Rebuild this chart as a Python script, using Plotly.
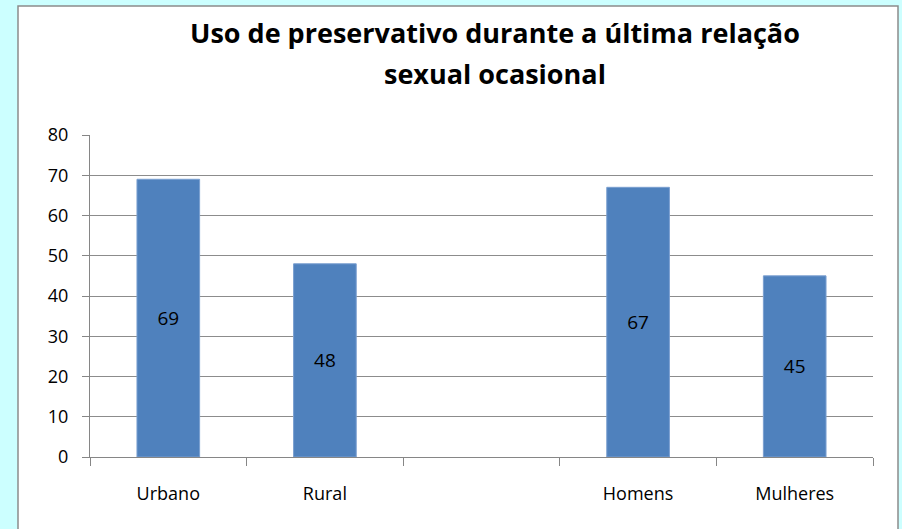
import plotly.graph_objects as go

categories = ["Urbano", "Rural", " ", "Homens", "Mulheres"]
values = [69, 48, None, 67, 45]
labels = ["69", "48", "", "67", "45"]
y_ticks = [0, 10, 20, 30, 40, 50, 60, 70, 80]
title_lines = ["Uso de preservativo durante a última relação", "sexual ocasional"]

W, H = 902, 529
L, R, T, B = 90, 873, 135, 457
pw, ph = R - L, B - T
FONT = "Open Sans, Lato, sans-serif"

def px_x(x):
    return (x - L) / pw

def px_y(y):
    return (B - y) / ph

fig = go.Figure()
fig.add_trace(go.Bar(
    x=categories, y=values, text=labels,
    textposition="inside", insidetextanchor="middle",
    textfont=dict(family=FONT, size=19, color="black"),
    marker=dict(color="#4F81BD", line=dict(color="#7A9FD0", width=1)),
    width=0.4, hoverinfo="x+y",
))

annotations = []
for i, (line, ypx) in enumerate(zip(title_lines, [33, 73])):
    annotations.append(dict(
        text="<b>" + line + "</b>", xref="paper", yref="paper",
        x=px_x(495), y=px_y(ypx), xanchor="center", yanchor="middle",
        showarrow=False, font=dict(family=FONT, size=27, color="black"),
    ))

fig.update_layout(
    width=W, height=H,
    margin=dict(l=L, r=W - R, t=T, b=H - B, autoexpand=False),
    paper_bgcolor="#CCFFFF",
    plot_bgcolor="white",
    showlegend=False,
    font=dict(family=FONT, color="black"),
    annotations=annotations,
    shapes=[dict(
        type="rect", xref="paper", yref="paper", layer="below",
        x0=px_x(18), x1=px_x(898), y0=px_y(540), y1=px_y(6),
        fillcolor="white", line=dict(color="#8C8C8C", width=1.5),
    )],
    xaxis=dict(
        type="category", categoryorder="array", categoryarray=categories,
        showline=True, linecolor="#868686", linewidth=1,
        ticks="outside", tickson="boundaries", ticklen=8, tickcolor="#868686",
        tickfont=dict(size=18, color="black"), ticklabelstandoff=20,
        showgrid=False, fixedrange=True,
    ),
    yaxis=dict(
        range=[0, 80], tickvals=y_ticks,
        showline=True, linecolor="#868686", linewidth=1,
        ticks="outside", ticklen=7, tickcolor="#868686",
        tickfont=dict(size=18, color="black"), ticklabelstandoff=10,
        showgrid=True, gridcolor="#8C8C8C", gridwidth=1,
        zeroline=False, fixedrange=True,
    ),
)

fig.write_html("out.html", config={"displayModeBar": False},
               post_script="document.body.style.margin='0';")
